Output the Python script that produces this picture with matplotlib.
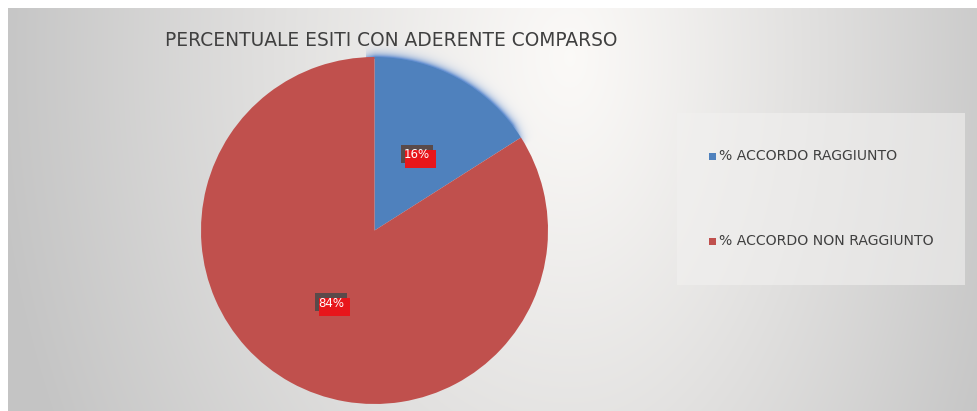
import numpy as np
import matplotlib
matplotlib.use("Agg")
import matplotlib.pyplot as plt
from matplotlib.patches import Rectangle

TITLE = "PERCENTUALE ESITI CON ADERENTE COMPARSO"
labels = ["% ACCORDO RAGGIUNTO", "% ACCORDO NON RAGGIUNTO"]
values = [16, 84]
colors = ["#4F81BD", "#C0504D"]

W, H = 977, 411
fig = plt.figure(figsize=(W / 100, H / 100), dpi=100)
fig.patch.set_facecolor("white")

cx, cy, r = 374.5, 230.5, 173.5

# background with radial gradient
bg = fig.add_axes([8 / W, 0, (W - 8) / W, (H - 8) / H])
bg.set_axis_off()
yy, xx = np.mgrid[0:403, 0:969]
px_x = xx + 8.0
px_y = yy + 8.0
gx = px_x - 570.0
rx = np.where(gx < 0, 580.0, 470.0)
d = np.sqrt((gx / rx) ** 2 + ((yy - 50) / 820.0) ** 2)
d = np.clip(d, 0, 1) ** 1.1
light = np.array([0.985, 0.978, 0.97])
dark = np.array([0.77, 0.77, 0.77])
img = light[None, None, :] * (1 - d[..., None]) + dark[None, None, :] * d[..., None]

# soft blue glow outside the blue slice
dx = px_x - cx
dy = cy - px_y
rr = np.hypot(dx, dy)
ang = np.degrees(np.arctan2(dy, dx))
a_start = 90.0
a_end = 90.0 - 360.0 * values[0] / sum(values)
inside = (ang <= a_start + 3) & (ang >= a_end - 3)
taper = np.clip((ang - a_end + 3) / 8.0, 0, 1) * np.clip((a_start + 6 - ang) / 6.0, 0, 1)
dist = rr - r
glow = np.where((dist > -2) & inside, np.exp(-np.clip(dist, 0, None) / 3.5), 0.0) * taper * 0.85
gcol = np.array([0.30, 0.50, 0.80])
img = img * (1 - glow[..., None]) + gcol[None, None, :] * glow[..., None]

bg.imshow(img, aspect="auto", extent=[0, 1, 0, 1], origin="upper")
bg.set_xlim(0, 1)
bg.set_ylim(0, 1)

# legend panel
bg.add_patch(Rectangle(((677 - 8) / 969, (411 - 285) / 403), 288 / 969, 172 / 403,
                       facecolor="#f2f1f0", edgecolor="none", alpha=0.6))

# pie
ax = fig.add_axes([(cx - r) / W, (H - cy - r) / H, 2 * r / W, 2 * r / H])
ax.set_axis_off()
wedges, _ = ax.pie(values, radius=1.0, startangle=90, counterclock=False,
                   colors=colors, wedgeprops=dict(linewidth=0))
ax.set_xlim(-1, 1)
ax.set_ylim(-1, 1)

# data labels: dark box with red box over it, white text on top
label_pos = [(417, 155), (331, 303)]
for v, (lx, ly) in zip(values, label_pos):
    fig.patches.append(Rectangle(((lx - 16) / W, 1 - (ly + 8) / H), 32 / W, 18 / H,
                                 facecolor="#5a4a4a", edgecolor="none", transform=fig.transFigure))
    fig.patches.append(Rectangle(((lx - 12) / W, 1 - (ly + 13) / H), 31 / W, 18 / H,
                                 facecolor="#e8161b", edgecolor="none", transform=fig.transFigure))
    fig.text(lx / W, 1 - ly / H, f"{v}%", ha="center", va="center", fontsize=8.5, color="white")

# title
fig.text(165 / W, 1 - 40 / H, TITLE, ha="left", va="center", fontsize=13.4, color="#404040")

# legend
for lab, col, ly in zip(labels, colors, [156, 241]):
    fig.patches.append(Rectangle((709 / W, 1 - (ly + 4) / H), 7 / W, 7 / H,
                                 facecolor=col, edgecolor="none", transform=fig.transFigure))
    fig.text(719 / W, 1 - ly / H, lab, ha="left", va="center", fontsize=10.1, color="#404040")

fig.savefig("out.png", dpi=100)
